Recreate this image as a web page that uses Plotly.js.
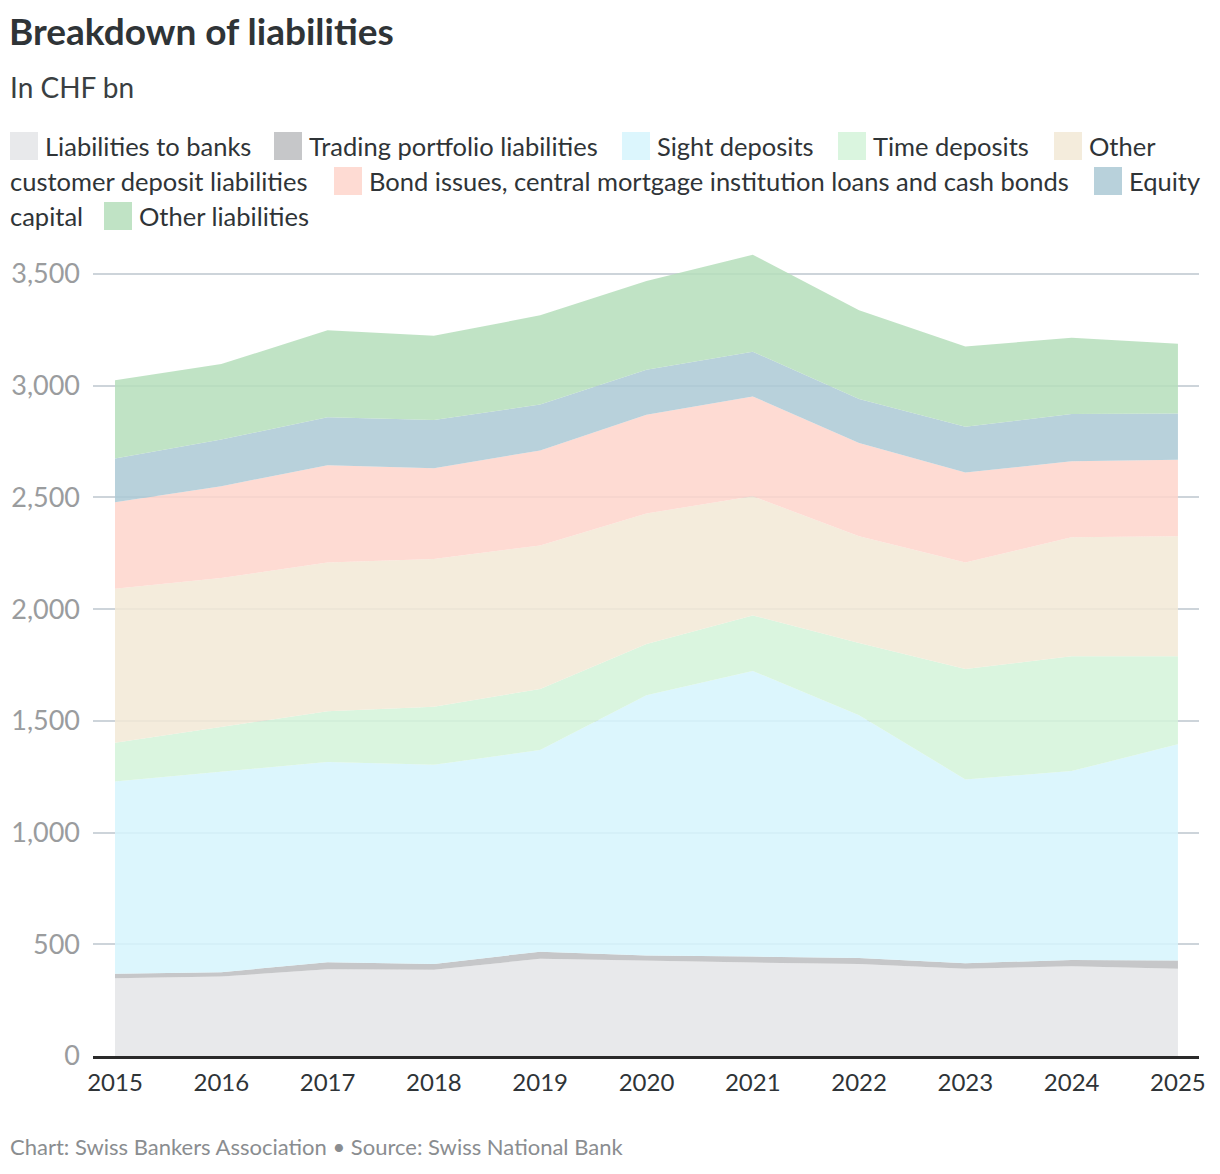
<!DOCTYPE html>
<html>
<head>
<meta charset="utf-8">
<script src="https://cdn.plot.ly/plotly-3.0.1.min.js"></script>
<style>
  html, body { margin: 0; padding: 0; background: #fff; }
  #chart { width: 1220px; height: 1174px; }
</style>
</head>
<body>
<div id="chart"></div>
<script>
    'use strict';

    // values, CHF bn
    var years = [2015, 2016, 2017, 2018, 2019, 2020, 2021, 2022, 2023, 2024, 2025];
    var banks = [348, 356, 388, 386, 435, 425, 418, 412, 390, 402, 390];
    var trading = [20, 19, 32, 26, 32, 25, 27, 27, 25, 28, 37];
    var sight = [860, 896, 896, 891, 903, 1165, 1278, 1086, 823, 845, 968];
    var timeDep = [174, 202, 227, 260, 273, 229, 249, 323, 494, 514, 394];
    var otherCustomer = [689, 666, 666, 661, 642, 584, 533, 478, 477, 533, 537];
    var bonds = [387, 411, 435, 407, 425, 442, 447, 418, 402, 340, 343];
    var equity = [196, 209, 215, 215, 206, 201, 200, 196, 205, 211, 207];
    var otherLiab = [350, 338, 389, 377, 399, 397, 434, 398, 359, 342, 312];

    var names = [
        'Liabilities to banks',
        'Trading portfolio liabilities',
        'Sight deposits',
        'Time deposits',
        'Other customer deposit liabilities',
        'Bond issues, central mortgage institution loans and cash bonds',
        'Equity capital',
        'Other liabilities'
    ];
    var series = [banks, trading, sight, timeDep, otherCustomer, bonds, equity, otherLiab];
    // fills are a little transparent so the grid shows through like the original
    var fills = [
        'rgba(228,229,231,0.85)',
        'rgba(188,189,191,0.85)',
        'rgba(214,244,253,0.85)',
        'rgba(211,243,217,0.85)',
        'rgba(242,233,214,0.85)',
        'rgba(254,213,203,0.85)',
        'rgba(171,201,213,0.85)',
        'rgba(181,222,187,0.85)'
    ];
    var swatches = ['#e8e9eb', '#c6c7c9', '#dcf6fd', '#daf5df', '#f4ecdc', '#fedbd3', '#b8d1db', '#c0e3c5'];

    var FONT = 'Lato, "Noto Sans", sans-serif';
    var DARK = '#2f3437';

    var W = 1220, H = 1174;
    var M = { l: 93, r: 21, t: 240, b: 118 };
    var pw = W - M.l - M.r, ph = H - M.t - M.b;
    var px = ( x ) => ( x - M.l ) / pw;
    var py = ( y ) => ( H - M.b - y ) / ph;

    var data = series.map( ( vals, i ) => ( {
        x: years,
        y: vals,
        name: names[i],
        type: 'scatter',
        mode: 'lines',
        stackgroup: 'one',
        fillcolor: fills[i],
        line: { width: 0, color: fills[i] },
        hoverinfo: 'skip'
    } ) );

    // legend, laid out by hand because the original wraps inside items
    // [series index or -1 for plain text, text, left x, row]
    var legendRows = [ 146, 181, 216 ];
    var legendItems = [
        [ 0, 'Liabilities to banks', 10, 0 ],
        [ 1, 'Trading portfolio liabilities', 274, 0 ],
        [ 2, 'Sight deposits', 622, 0 ],
        [ 3, 'Time deposits', 838, 0 ],
        [ 4, 'Other', 1054, 0 ],
        [ -1, 'customer deposit liabilities', 10, 1 ],
        [ 5, 'Bond issues, central mortgage institution loans and cash bonds', 334, 1 ],
        [ 6, 'Equity', 1094, 1 ],
        [ -1, 'capital', 10, 2 ],
        [ 7, 'Other liabilities', 104, 2 ]
    ];

    var shapes = [];
    var annotations = [];
    legendItems.forEach( ( item ) => {
        var yc = legendRows[ item[3] ];
        var tx = item[2];
        if ( item[0] >= 0 ) {
            shapes.push( {
                type: 'rect', xref: 'paper', yref: 'paper', layer: 'above',
                x0: px( tx ), x1: px( tx + 28 ), y0: py( yc + 14 ), y1: py( yc - 14 ),
                fillcolor: swatches[ item[0] ], line: { width: 0 }
            } );
            tx += 33;
        } else {
            tx -= 2;
        }
        annotations.push( {
            xref: 'paper', yref: 'paper', x: px( tx ), y: py( yc ),
            xanchor: 'left', yanchor: 'middle', showarrow: false,
            text: item[1], font: { family: FONT, size: 25.5, color: DARK }
        } );
    } );

    annotations.push( {
        xref: 'paper', yref: 'paper', x: px( 8 ), y: py( 87 ),
        xanchor: 'left', yanchor: 'middle', showarrow: false,
        text: 'In CHF bn', font: { family: FONT, size: 28, color: '#3a3f42' }
    } );
    annotations.push( {
        xref: 'paper', yref: 'paper', x: px( 8 ), y: py( 1146 ),
        xanchor: 'left', yanchor: 'middle', showarrow: false,
        text: 'Chart: Swiss Bankers Association • Source: Swiss National Bank',
        font: { family: FONT, size: 22, color: '#8a8d90' }
    } );

    var layout = {
        width: W,
        height: H,
        margin: M,
        paper_bgcolor: '#fff',
        plot_bgcolor: '#fff',
        showlegend: false,
        hovermode: false,
        title: {
            text: '<b>Breakdown of liabilities</b>',
            xref: 'container', yref: 'container',
            x: 9 / W, xanchor: 'left',
            y: 1 - 32 / H, yanchor: 'middle',
            font: { family: FONT, size: 37, color: DARK }
        },
        xaxis: {
            range: [ 2014.793, 2025.198 ],
            tickvals: years,
            showgrid: false,
            zeroline: false,
            showline: true,
            linecolor: '#2a2a2a',
            linewidth: 3,
            ticks: '',
            tickfont: { family: FONT, size: 24, color: DARK },
            ticklabelstandoff: 3
        },
        yaxis: {
            range: [ 0, 3652 ],
            tickvals: [ 0, 500, 1000, 1500, 2000, 2500, 3000, 3500 ],
            tickformat: ',',
            showgrid: true,
            gridcolor: '#cdd4da',
            gridwidth: 2,
            zeroline: false,
            showline: false,
            ticks: '',
            tickfont: { family: FONT, size: 27, color: '#9a9c9e' },
            ticklabelstandoff: 12
        },
        separators: '.,',
        shapes: shapes,
        annotations: annotations
    };

    Plotly.newPlot( 'chart', data, layout, { displayModeBar: false, staticPlot: true } );
</script>
</body>
</html>
